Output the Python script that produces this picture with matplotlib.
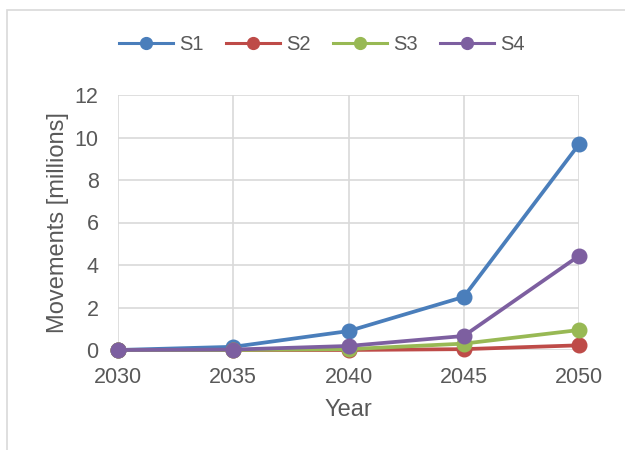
import matplotlib.pyplot as plt
from matplotlib.lines import Line2D
from matplotlib.patches import Rectangle

plt.rcParams['font.family'] = ['Liberation Sans', 'DejaVu Sans']

years = [2030, 2035, 2040, 2045, 2050]
s1 = [0.0, 0.15, 0.89, 2.5, 9.68]
s2 = [0.0, 0.0, 0.0, 0.04, 0.22]
s3 = [0.0, 0.0, 0.04, 0.3, 0.94]
s4 = [0.0, 0.02, 0.19, 0.66, 4.43]
series = {'S1': s1, 'S2': s2, 'S3': s3, 'S4': s4}
colors = {'S1': '#4a7ebb', 'S2': '#be4b48', 'S3': '#98b954', 'S4': '#7d5fa0'}

fig = plt.figure(figsize=(6.25, 4.5), dpi=100)
ax = fig.add_axes([118 / 625, 1 - 350 / 450, (579 - 118) / 625, (350 - 95) / 450])

# chart border like excel
fig.patches.append(Rectangle((7 / 625, -0.2), 1.2, 1 - 10 / 450 + 0.2, transform=fig.transFigure,
                             fill=False, edgecolor='#d9d9d9', linewidth=1.2))

for name, vals in series.items():
    ax.plot(years, vals, color=colors[name], lw=2.7, marker='o', ms=10.5, label=name,
            solid_capstyle='round', zorder=3, clip_on=False)

ax.set_xlim(2030, 2050)
ax.set_ylim(0, 12)
ax.set_xticks(years)
ax.set_yticks(range(0, 13, 2))
ax.grid(True, color='#d9d9d9', lw=1.2)
ax.set_axisbelow(True)
for sp in ax.spines.values():
    sp.set_visible(False)
ax.tick_params(axis='x', length=0, labelsize=15.5, labelcolor='#595959', pad=12)
ax.tick_params(axis='y', length=0, labelsize=15.5, labelcolor='#595959', pad=14)
ax.set_xlabel('Year', fontsize=17, color='#595959', labelpad=8)
ax.set_ylabel('Movements [millions]', fontsize=17, color='#595959', labelpad=4)

# legend handles are a bit smaller than the plotted markers
handles = [Line2D([], [], color=colors[n], lw=2.2, marker='o', ms=8.5) for n in series]
fig.legend(handles, list(series), loc='center', bbox_to_anchor=(0.515, 1 - 45 / 450), ncol=4,
           frameon=False, fontsize=14.5, handlelength=2.7, columnspacing=1.1, handletextpad=0.3,
           labelcolor='#595959')

fig.savefig('out.png', dpi=100)
